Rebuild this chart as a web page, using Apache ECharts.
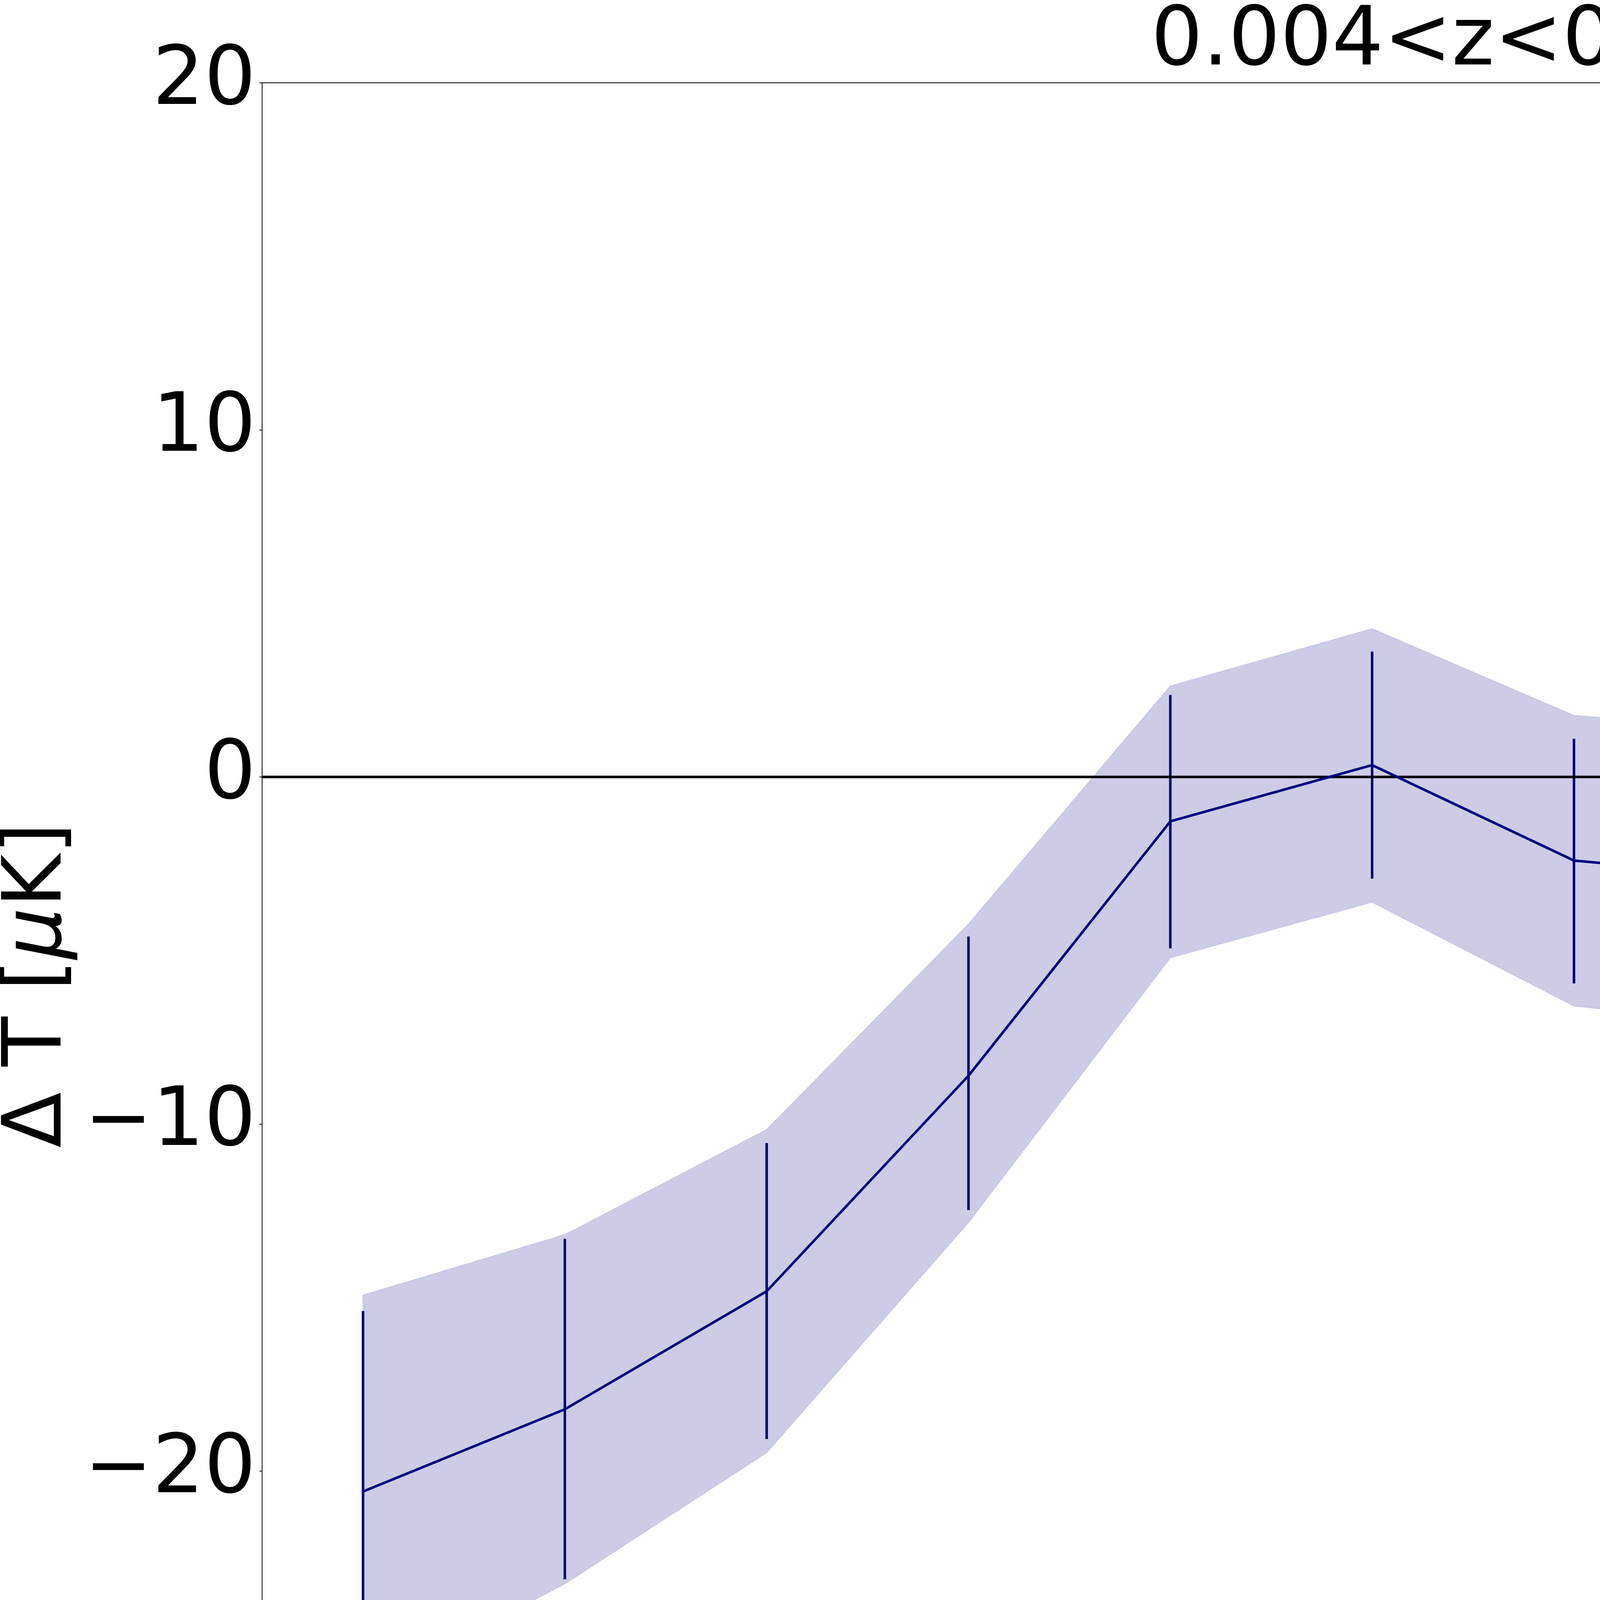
<!DOCTYPE html>
<html>
<head>
<meta charset="utf-8">
<script src="https://cdn.jsdelivr.net/npm/echarts@6/dist/echarts.min.js"></script>
<style>
  html, body { margin: 0; padding: 0; background: #fff; }
  #chart { width: 6947px; height: 5265px; }
</style>
</head>
<body>
<div id="chart"></div>
<script>
// ---- data ----
const dPerp   = [0.25, 0.75, 1.25, 1.75, 2.25, 2.75, 3.25, 3.75, 4.25, 4.75, 5.25, 5.75];
const meanT   = [-20.59, -18.22, -14.82, -8.61, -1.28, 0.34, -2.41, -2.94, -0.94, -1.71, -2.00, -2.54];
const errLow  = [-25.84, -23.12, -19.08, -12.48, -4.94, -2.93, -5.95, -6.78, -4.75, -5.31, -5.49, -6.37];
const errHigh = [-15.39, -13.31, -10.55, -4.60, 2.36, 3.61, 1.10, 0.90, 2.86, 1.89, 1.50, 1.26];
const bandLow = [-26.29, -23.25, -19.47, -12.84, -5.21, -3.61, -6.60, -7.22, -5.15, -5.96, -6.17, -6.54];
const bandHigh= [-14.93, -13.19, -10.16, -4.24, 2.62, 4.27, 1.77, 1.34, 3.25, 2.54, 2.18, 1.45];
const zeroX   = [0, 5.75];
const zeroY   = [0, 0];
const xTicks  = [0, 1, 2, 3, 4, 5, 6];
const yTicks  = [-30, -20, -10, 0, 10, 20];

const FONT = 'DejaVu Sans';
const FS = 208;
const NAVY = '#000080';
const BAND = 'rgb(204,204,230)';

const GRID = { left: 671, right: 76, top: 212, bottom: 433 };
const W = 6947;

const chart = echarts.init(document.getElementById('chart'), null, { renderer: 'canvas' });

const bandSeries = {
  type: 'custom',
  name: 'band',
  z: 1,
  silent: true,
  clip: true,
  data: dPerp.map((x, i) => [x, bandLow[i], bandHigh[i]]),
  encode: { x: 0, y: [1, 2] },
  renderItem: function (params, api) {
    if (params.dataIndex !== 0) return null;
    const pts = [];
    for (let i = 0; i < dPerp.length; i++) pts.push(api.coord([dPerp[i], bandHigh[i]]));
    for (let i = dPerp.length - 1; i >= 0; i--) pts.push(api.coord([dPerp[i], bandLow[i]]));
    return {
      type: 'polygon',
      shape: { points: pts },
      style: { fill: BAND, stroke: 'rgb(196,196,226)', lineWidth: 2 }
    };
  }
};

const errSeries = {
  type: 'custom',
  name: 'errbars',
  z: 2,
  silent: true,
  data: dPerp.map((x, i) => [x, errLow[i], errHigh[i]]),
  encode: { x: 0, y: [1, 2] },
  renderItem: function (params, api) {
    const x = api.value(0);
    const p1 = api.coord([x, api.value(1)]);
    const p2 = api.coord([x, api.value(2)]);
    return {
      type: 'line',
      shape: { x1: p1[0], y1: p1[1], x2: p2[0], y2: p2[1] },
      style: { stroke: NAVY, lineWidth: 6.5 }
    };
  }
};

const option = {
  backgroundColor: '#fff',
  animation: false,
  textStyle: { fontFamily: FONT },
  title: {
    text: '0.004<z<0.040',
    left: (GRID.left + (W - GRID.right)) / 2,
    textAlign: 'center',
    top: 7,
    padding: 0,
    textStyle: { fontFamily: FONT, fontSize: FS, fontWeight: 'normal', color: '#000' }
  },
  grid: {
    left: GRID.left, right: GRID.right, top: GRID.top, bottom: GRID.bottom,
    outerBoundsMode: 'none',
    containLabel: false,
    show: true, borderColor: '#000', borderWidth: 2, backgroundColor: 'transparent'
  },
  xAxis: {
    type: 'value',
    min: xTicks[0], max: xTicks[xTicks.length - 1], interval: 1,
    name: 'd{s|⊥} [mpc]',
    nameLocation: 'middle',
    nameGap: 190,
    nameTextStyle: {
      fontFamily: FONT, fontSize: FS, color: '#000',
      rich: { s: { fontFamily: FONT, fontSize: 147, color: '#000', padding: [102, 0, 0, 0] } }
    },
    axisLine: { show: true, onZero: false, lineStyle: { color: '#000', width: 2 } },
    axisTick: { show: true, inside: false, length: 7, lineStyle: { color: '#000', width: 2 } },
    axisLabel: { fontFamily: FONT, fontSize: FS, color: '#000', margin: 4 },
    splitLine: { show: false }
  },
  yAxis: {
    type: 'value',
    min: -32, max: 20,
    splitNumber: 5,
    name: 'Δ T [{i|μ}K]',
    nameLocation: 'middle',
    nameGap: 422,
    nameRotate: 90,
    nameTextStyle: {
      fontFamily: FONT, fontSize: FS, color: '#000',
      rich: { i: { fontFamily: FONT, fontSize: FS, fontStyle: 'italic', color: '#000' } }
    },
    axisLine: { show: true, onZero: false, lineStyle: { color: '#000', width: 2 } },
    axisTick: { show: true, inside: false, length: 7, lineStyle: { color: '#000', width: 2 } },
    axisLabel: {
      fontFamily: FONT, fontSize: FS, color: '#000', margin: 16,
      formatter: function (v) {
        return yTicks.indexOf(v) >= 0 ? String(v).replace('-', '\u2212') : '';
      }
    },
    splitLine: { show: false }
  },
  legend: [
    {
      data: [{ name: 'no foreground', icon: 'rect' }],
      left: 4217, top: 381,
      itemWidth: 418, itemHeight: 7,
      padding: 0,
      selectedMode: false,
      textStyle: { fontFamily: FONT, fontSize: FS, color: '#000', padding: [0, 0, 0, 175] }
    },
    {
      data: [{ name: 'Combined sample', icon: 'path://M0,101 H418 V108 H0 Z M206,0 H212 V210 H206 Z' }],
      left: 4217, top: 693,
      itemWidth: 418, itemHeight: 210,
      padding: 0,
      selectedMode: false,
      textStyle: { fontFamily: FONT, fontSize: FS, color: '#000', padding: [0, 0, 0, 175] }
    }
  ],
  graphic: [
    {
      type: 'rect',
      z: 3,
      silent: true,
      shape: { x: 4134, y: 316, width: 2632, height: 675, r: 30 },
      style: { fill: '#fff', stroke: '#d6d6d6', lineWidth: 3 }
    }
  ],
  series: [
    bandSeries,
    errSeries,
    {
      type: 'line',
      name: 'no foreground',
      z: 3,
      data: zeroX.map((x, i) => [x, zeroY[i]]),
      symbol: 'none',
      color: '#000',
      lineStyle: { color: '#000', width: 6.5 },
      silent: true
    },
    {
      type: 'line',
      name: 'Combined sample',
      z: 4,
      data: dPerp.map((x, i) => [x, meanT[i]]),
      symbol: 'none',
      color: NAVY,
      lineStyle: { color: NAVY, width: 6.5 },
      silent: true
    }
  ]
};

chart.setOption(option);
</script>
</body>
</html>
